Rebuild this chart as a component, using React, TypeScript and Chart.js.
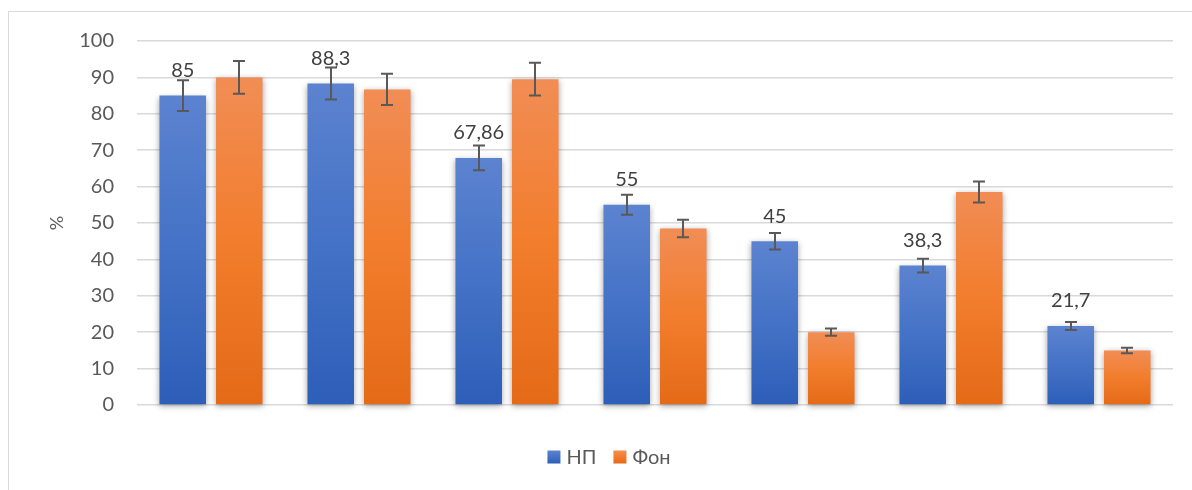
import React, { useEffect, useRef } from "react";
import { Chart, registerables } from "chart.js";

Chart.register(...registerables);

const categories = ["1", "2", "3", "4", "5", "6", "7"];
const seriesNames = ["НП", "Фон"];
const npValues = [85, 88.3, 67.86, 55, 45, 38.3, 21.7];
const fonValues = [90, 86.7, 89.5, 48.5, 20, 58.5, 15];
const npErrors = [4.25, 4.4, 3.4, 2.75, 2.25, 1.9, 1.1];
const fonErrors = [4.5, 4.3, 4.5, 2.4, 1.0, 2.9, 0.75];
const yTicks = [0, 10, 20, 30, 40, 50, 60, 70, 80, 90, 100];
const yTitle = "%";

const blueStops = ["#5c83d0", "#4472c6", "#2d5eb8"];
const orangeStops = ["#f18d55", "#f27d2c", "#e46a17"];

const FONT = "Lato, 'Noto Sans', sans-serif";

function fillGrad(ctx2d: CanvasRenderingContext2D, top: number, bottom: number, stops: string[]) {
  const g = ctx2d.createLinearGradient(0, top, 0, bottom);
  g.addColorStop(0, stops[0]);
  g.addColorStop(0.5, stops[1]);
  g.addColorStop(1, stops[2]);
  return g;
}

function makeBg(stops: string[]) {
  return (c: any) => {
    const chart = c.chart;
    if (!chart.chartArea || c.type !== "data" || !chart.scales.y) return stops[1];
    const y = chart.scales.y;
    const top = y.getPixelForValue(c.raw);
    const base = y.getPixelForValue(0);
    if (!isFinite(top) || !isFinite(base) || top === base) return stops[1];
    return fillGrad(chart.ctx, top, base, stops);
  };
}

const customPlugin = {
  id: "custom",
  beforeDraw(chart: any) {
    const ctx = chart.ctx;
    ctx.save();
    ctx.strokeStyle = "#d9d9d9";
    ctx.lineWidth = 1;
    ctx.strokeRect(8.5, 11.5, 1400, 700);
    ctx.restore();
  },
  beforeDatasetsDraw(chart: any) {
    const ctx = chart.ctx;
    ctx.save();
    ctx.shadowColor = "rgba(0,0,0,0.35)";
    ctx.shadowBlur = 6;
    ctx.shadowOffsetX = 0;
    ctx.shadowOffsetY = 2;
  },
  afterDatasetsDraw(chart: any) {
    const ctx = chart.ctx;
    ctx.restore();
    const y = chart.scales.y;
    const errs = [npErrors, fonErrors];
    const meta0 = chart.getDatasetMeta(0);
    ctx.save();
    ctx.fillStyle = "#404040";
    ctx.font = `20px ${FONT}`;
    ctx.textAlign = "center";
    ctx.textBaseline = "middle";
    meta0.data.forEach((el: any, i: number) => {
      const txt = String(npValues[i]).replace(".", ",");
      ctx.fillText(txt, el.x, el.y - 25);
    });
    ctx.restore();
    ctx.save();
    ctx.strokeStyle = "#595959";
    ctx.lineWidth = 2;
    chart.data.datasets.forEach((ds: any, di: number) => {
      const meta = chart.getDatasetMeta(di);
      meta.data.forEach((el: any, i: number) => {
        const v = ds.data[i];
        const e = errs[di][i];
        const yt = y.getPixelForValue(v + e);
        const yb = y.getPixelForValue(v - e);
        const x = Math.round(el.x);
        ctx.beginPath();
        ctx.moveTo(x, yt);
        ctx.lineTo(x, yb);
        ctx.moveTo(x - 6, yt);
        ctx.lineTo(x + 6, yt);
        ctx.moveTo(x - 6, yb);
        ctx.lineTo(x + 6, yb);
        ctx.stroke();
      });
    });
    ctx.restore();
  },
  afterDraw(chart: any) {
    const ctx = chart.ctx;
    ctx.save();
    ctx.font = `20px ${FONT}`;
    ctx.textBaseline = "middle";
    ctx.textAlign = "left";
    const box = 13;
    const gapBoxText = 6;
    const gapItems = 17;
    const widths = seriesNames.map((n) => ctx.measureText(n).width);
    const total = widths.reduce((a, w) => a + box + gapBoxText + w, 0) + gapItems * (seriesNames.length - 1);
    const cy = 457;
    let x = 609 - total / 2;
    const stopsList = [blueStops, orangeStops];
    seriesNames.forEach((n, i) => {
      ctx.fillStyle = fillGrad(ctx, cy - box / 2, cy + box / 2, stopsList[i]);
      ctx.fillRect(x, cy - box / 2, box, box);
      x += box + gapBoxText;
      ctx.fillStyle = "#595959";
      ctx.fillText(n, x, cy + 1);
      x += widths[i] + gapItems;
    });
    ctx.restore();
  },
};

export default function App() {
  const ref = useRef<HTMLCanvasElement>(null);
  useEffect(() => {
    if (!ref.current) return;
    const chart = new Chart(ref.current, {
      type: "bar",
      data: {
        labels: categories,
        datasets: [
          {
            label: seriesNames[0],
            data: npValues,
            backgroundColor: makeBg(blueStops),
            categoryPercentage: 0.764,
            barPercentage: 0.823,
            clip: false as any,
          },
          {
            label: seriesNames[1],
            data: fonValues,
            backgroundColor: makeBg(orangeStops),
            categoryPercentage: 0.764,
            barPercentage: 0.823,
            clip: false as any,
          },
        ],
      },
      options: {
        responsive: false,
        animation: false,
        devicePixelRatio: 1,
        layout: { padding: { left: 0, top: 41, right: 19, bottom: 85 } },
        plugins: {
          legend: { display: false },
          tooltip: { enabled: false },
        },
        scales: {
          x: {
            display: false,
            grid: { display: false },
          },
          y: {
            min: 0,
            max: 100,
            afterFit: (s: any) => {
              s.width = 137;
            },
            afterBuildTicks: (s: any) => {
              s.ticks = yTicks.map((v) => ({ value: v }));
            },
            ticks: {
              color: "#595959",
              font: { family: FONT, size: 20 },
              padding: 23,
            },
            grid: { color: "#d9d9d9", lineWidth: 1.5, drawTicks: false },
            border: { display: false },
            title: {
              display: true,
              text: yTitle,
              color: "#595959",
              font: { family: FONT, size: 18 },
              padding: { top: 46, bottom: 0 },
            },
          },
        },
      },
      plugins: [customPlugin],
    });
    return () => chart.destroy();
  }, []);
  return (
    <div style={{ position: "absolute", left: 0, top: 0, width: 1192, height: 490, background: "#fff" }}>
      <canvas ref={ref} width={1192} height={490} style={{ display: "block" }} />
    </div>
  );
}
